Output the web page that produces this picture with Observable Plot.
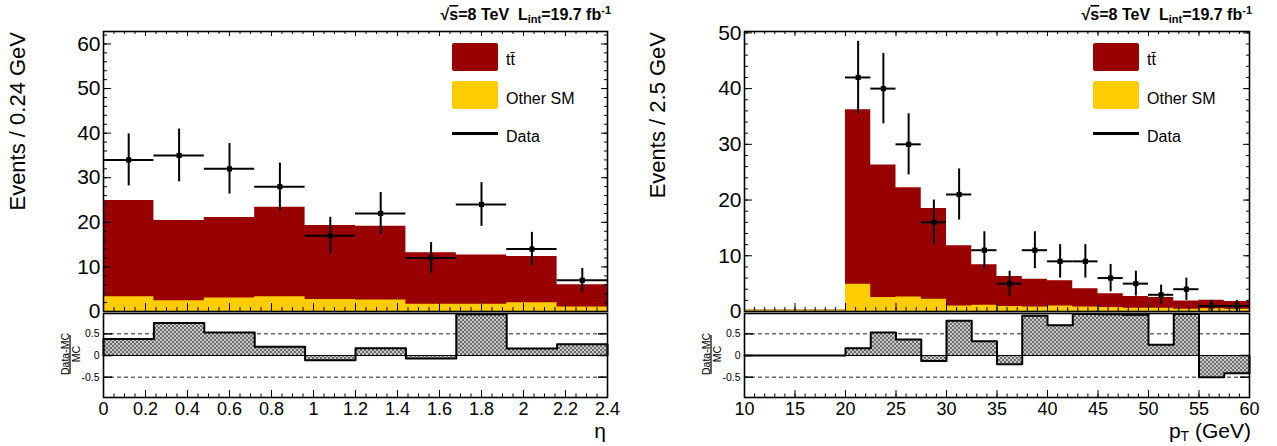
<!DOCTYPE html>
<html>
<head>
<meta charset="utf-8">
<script src="https://cdn.jsdelivr.net/npm/d3@7"></script>
<script src="https://cdn.jsdelivr.net/npm/@observablehq/plot@0.6"></script>
<style>
  body { margin: 0; background: #fff; }
  #wrap { position: relative; width: 1277px; height: 446px; overflow: hidden; background: #fff;
          font-family: "Liberation Sans", Arial, Helvetica, sans-serif; }
</style>
</head>
<body>
<svg width="0" height="0" style="position:absolute">
  <defs>
    <pattern id="hatch" width="4" height="4" patternUnits="userSpaceOnUse">
      <rect width="4" height="4" fill="#cacaca"/>
      <rect width="2" height="2" fill="#6a6a6a"/>
      <rect x="2" y="2" width="2" height="2" fill="#6a6a6a"/>
    </pattern>
  </defs>
</svg>
<div id="wrap"></div>
<script>
// ---------------- DATA ----------------
// Left panel: eta, bins of 0.24
const etaEdges  = [0, 0.24, 0.48, 0.72, 0.96, 1.2, 1.44, 1.68, 1.92, 2.16, 2.4];
const etaTTbar  = [21.6, 18.0, 18.1, 20.1, 16.6, 16.5, 11.6, 11.1, 10.4, 5.0];
const etaOther  = [3.3, 2.4, 3.0, 3.3, 2.7, 2.6, 1.6, 1.6, 1.95, 1.0];
const etaData   = [34, 35, 32, 28, 17, 22, 12, 24, 14, 7];
const etaRatio  = [0.38, 0.75, 0.53, 0.20, -0.11, 0.17, -0.07, 0.95, 0.16, 0.26];
const etaTicks  = [0, 0.2, 0.4, 0.6, 0.8, 1, 1.2, 1.4, 1.6, 1.8, 2, 2.2, 2.4];
const etaYTicks = [0, 10, 20, 30, 40, 50, 60];

// Right panel: pT, bins of 2.5 GeV
const ptEdges   = [10, 12.5, 15, 17.5, 20, 22.5, 25, 27.5, 30, 32.5, 35, 37.5, 40, 42.5, 45, 47.5, 50, 52.5, 55, 57.5, 60];
const ptTTbar   = [0, 0, 0, 0, 31.3, 23.8, 19.6, 16.3, 10.8, 7.3, 5.4, 5.0, 4.5, 3.3, 2.5, 2.1, 1.9, 1.5, 1.5, 1.4];
const ptOther   = [0, 0, 0, 0, 4.9, 2.5, 2.6, 2.2, 1.0, 1.1, 0.9, 0.8, 1.0, 0.8, 0.7, 0.6, 0.6, 0.4, 0.5, 0.4];
const ptData    = [0, 0, 0, 0, 42, 40, 30, 16, 21, 11, 5, 11, 9, 9, 6, 5, 3, 4, 1, 1];
const ptRatio   = [0, 0, 0, 0, 0.17, 0.53, 0.37, -0.125, 0.80, 0.33, -0.20, 0.92, 0.70, 0.96, 0.95, 0.94, 0.25, 0.96, -0.50, -0.41];
const ptTicks   = [10, 15, 20, 25, 30, 35, 40, 45, 50, 55, 60];
const ptYTicks  = [0, 10, 20, 30, 40, 50];

const ratioTicks = [-0.5, 0, 0.5];

// ---------------- STYLE ----------------
const FONT = '"Liberation Sans", Arial, Helvetica, sans-serif';
const RED = "#990000", YEL = "#ffcc00";
const svgStyle = {fontFamily: FONT, background: "none", overflow: "visible", color: "black"};

function makeRows(edges, ttbar, other, data, ratio) {
  return edges.slice(0, -1).map((x1, i) => ({
    x1, x2: edges[i + 1], xc: (x1 + edges[i + 1]) / 2,
    other: other[i], total: other[i] + ttbar[i], data: data[i], ratio: ratio[i]
  }));
}
// step points: two per bin (left edge and right edge) carrying that bin's values
function stepPoints(rows) {
  const p = [];
  rows.forEach(d => { p.push({...d, x: d.x1}); p.push({...d, x: d.x2}); });
  return p;
}

const yTicksMark = (vals, len, side, pw, sw = 1) =>
  Plot.tickY(vals, {y: d => d, stroke: "black", strokeWidth: sw,
    [side === "left" ? "insetRight" : "insetLeft"]: pw - len});
const xTicksMark = (vals, len, side, ph, sw = 1) =>
  Plot.tickX(vals, {x: d => d, stroke: "black", strokeWidth: sw,
    [side === "bottom" ? "insetTop" : "insetBottom"]: ph - len});

function panel(cfg) {
  const {edges, rows, xMajor, xMinor, yMax, yMajor, yMinor, left, top, width, marginLeft, marginRight, fmtX} = cfg;
  const pw = width - marginLeft - marginRight;
  const ph = 280;
  const xDom = [edges[0], edges[edges.length - 1]];
  const pts = rows.filter(d => d.data > 0);
  const empty = rows.filter(d => d.total === 0);
  const steps = stepPoints(rows);

  const main = Plot.plot({
    width, height: 313, marginLeft, marginRight, marginTop: 31, marginBottom: 2,
    x: {domain: xDom, axis: null, label: null},
    y: {domain: [0, yMax], axis: null, label: null},
    style: svgStyle,
    marks: [
      Plot.areaY(steps, {x: "x", y1: 0, y2: "total", fill: RED, curve: "linear"}),
      Plot.areaY(steps, {x: "x", y1: 0, y2: "other", fill: YEL, curve: "linear"}),
      Plot.ruleY(empty, {y: 0, x1: "x1", x2: "x2", stroke: "#c98a00", strokeWidth: 1.5, dy: -1.5}),
      Plot.ruleY(pts, {y: "data", x1: "x1", x2: "x2", stroke: "black", strokeWidth: 2}),
      Plot.ruleX(pts, {x: "xc", y1: d => d.data - Math.sqrt(d.data), y2: d => d.data + Math.sqrt(d.data), stroke: "black", strokeWidth: 2}),
      Plot.dot(pts, {x: "xc", y: "data", symbol: "square", r: 2.9, fill: "black", stroke: "none"}),
      yTicksMark(yMajor, 8, "left", pw),
      yTicksMark(yMinor, 4, "left", pw),
      yTicksMark(yMajor, 6, "right", pw),
      yTicksMark(yMinor, 3, "right", pw),
      xTicksMark(xMajor, 8, "bottom", ph),
      xTicksMark(xMinor, 4, "bottom", ph),
      xTicksMark(xMajor, 5, "top", ph),
      xTicksMark(xMinor, 3, "top", ph),
      Plot.frame({stroke: "black", strokeWidth: 1.6}),
      Plot.axisY(yMajor, {anchor: "left", label: null, tickSize: 0, tickPadding: 3, fontSize: 21, tickFormat: d => String(d)})
    ]
  });

  const outline = [{x: edges[0], ratio: 0}, ...steps, {x: edges[edges.length - 1], ratio: 0}];
  const rh = 84;

  const ratio = Plot.plot({
    width, height: 133, marginLeft, marginRight, marginTop: 0, marginBottom: 49,
    x: {domain: xDom, axis: null, label: null},
    y: {domain: [-0.97, 0.97], axis: null, label: null},
    style: svgStyle,
    marks: [
      Plot.ruleY([0.5, -0.5], {stroke: "#222", strokeWidth: 1, strokeDasharray: "4,3"}),
      Plot.areaY(steps, {x: "x", y1: 0, y2: "ratio", fill: "url(#hatch)", curve: "linear"}),
      Plot.ruleY([0], {stroke: "black", strokeWidth: 1.2}),
      Plot.line(outline, {x: "x", y: "ratio", stroke: "black", strokeWidth: 2}),
      yTicksMark(ratioTicks, 9, "left", pw, 1.5),
      yTicksMark(ratioTicks, 9, "right", pw, 1.5),
      xTicksMark(xMajor, 7, "bottom", rh),
      xTicksMark(xMinor, 3.5, "bottom", rh),
      Plot.frame({stroke: "black", strokeWidth: 1.6}),
      Plot.axisY(ratioTicks, {anchor: "left", label: null, tickSize: 0, tickPadding: 4, fontSize: 10.5, tickFormat: d => String(d)}),
      Plot.axisX(xMajor, {anchor: "bottom", label: null, tickSize: 0, tickPadding: 5, fontSize: 18, tickFormat: fmtX})
    ]
  });

  for (const [el, t] of [[ratio, top + 313], [main, top]]) {
    el.style.position = "absolute";
    el.style.left = left + "px";
    el.style.top = t + "px";
    document.getElementById("wrap").appendChild(el);
  }
}

const etaRows = makeRows(etaEdges, etaTTbar, etaOther, etaData, etaRatio);
const ptRows  = makeRows(ptEdges, ptTTbar, ptOther, ptData, ptRatio);

panel({edges: etaEdges, rows: etaRows, xMajor: etaTicks, xMinor: d3.range(0, 2.4001, 0.05),
       yMax: 62.8, yMajor: etaYTicks, yMinor: d3.range(0, 62.8, 2),
       left: 0, top: 0, width: 640, marginLeft: 103, marginRight: 33, fmtX: d => String(d)});
panel({edges: ptEdges, rows: ptRows, xMajor: ptTicks, xMinor: d3.range(10, 60.001, 1),
       yMax: 50.25, yMajor: ptYTicks, yMinor: d3.range(0, 50.25, 2),
       left: 640, top: 0, width: 637, marginLeft: 104, marginRight: 28, fmtX: d => String(d)});

// ---------------- ANNOTATIONS ----------------
const ov = d3.select("#wrap").append("svg")
  .attr("width", 1277).attr("height", 446)
  .style("position", "absolute").style("left", "0px").style("top", "0px")
  .style("pointer-events", "none").style("font-family", FONT);

function header(xr) {
  const t = ov.append("text").attr("x", xr).attr("y", 20).attr("text-anchor", "end")
    .attr("font-weight", "bold").attr("font-size", 16).style("white-space", "pre");
  t.append("tspan").text("√");
  t.append("tspan").style("text-decoration", "overline").text("s");
  t.append("tspan").text("=8 TeV  L");
  t.append("tspan").attr("font-size", 11).attr("dy", 3).text("int");
  t.append("tspan").attr("dy", -3).text("=19.7 fb");
  t.append("tspan").attr("font-size", 11).attr("dy", -6).text("-1");
}
header(611);
header(1252);

function legend(x0) {
  ov.append("rect").attr("x", x0).attr("y", 43).attr("width", 46).attr("height", 28).attr("rx", 2).attr("fill", RED);
  ov.append("rect").attr("x", x0).attr("y", 81).attr("width", 46).attr("height", 28).attr("rx", 2).attr("fill", YEL);
  ov.append("line").attr("x1", x0).attr("x2", x0 + 46).attr("y1", 133.5).attr("y2", 133.5)
    .attr("stroke", "black").attr("stroke-width", 3);
  ov.append("text").attr("x", x0 + 54).attr("y", 65).attr("font-size", 16).text("tt\u0304");
  ov.append("text").attr("x", x0 + 54).attr("y", 104).attr("font-size", 16).text("Other SM");
  ov.append("text").attr("x", x0 + 54).attr("y", 141.5).attr("font-size", 16).text("Data");
}
legend(452);
legend(1093);

function ytitle(x, text) {
  ov.append("text").attr("transform", `translate(${x},32) rotate(-90)`)
    .attr("text-anchor", "end").attr("dominant-baseline", "central").attr("font-size", 22).text(text);
}
ytitle(17.5, "Events / 0.24 GeV");
ytitle(657.5, "Events / 2.5 GeV");

function frac(xb) {
  ov.append("text").attr("transform", `translate(${xb - 1.5},354) rotate(-90)`)
    .attr("text-anchor", "middle").attr("font-size", 10.5).text("Data-MC");
  ov.append("line").attr("x1", xb).attr("x2", xb).attr("y1", 335).attr("y2", 374)
    .attr("stroke", "black").attr("stroke-width", 1.2);
  ov.append("text").attr("transform", `translate(${xb + 9.5},354) rotate(-90)`)
    .attr("text-anchor", "middle").attr("font-size", 10.5).text("MC");
}
frac(70);
frac(711);

ov.append("text").attr("x", 606).attr("y", 438).attr("text-anchor", "end").attr("font-size", 21).text("η");
const pt = ov.append("text").attr("x", 1251).attr("y", 438).attr("text-anchor", "end").attr("font-size", 21).style("white-space", "pre");
pt.append("tspan").text("p");
pt.append("tspan").attr("font-size", 14).attr("dy", 3).text("T");
pt.append("tspan").attr("dy", -3).text(" (GeV)");
</script>
</body>
</html>
